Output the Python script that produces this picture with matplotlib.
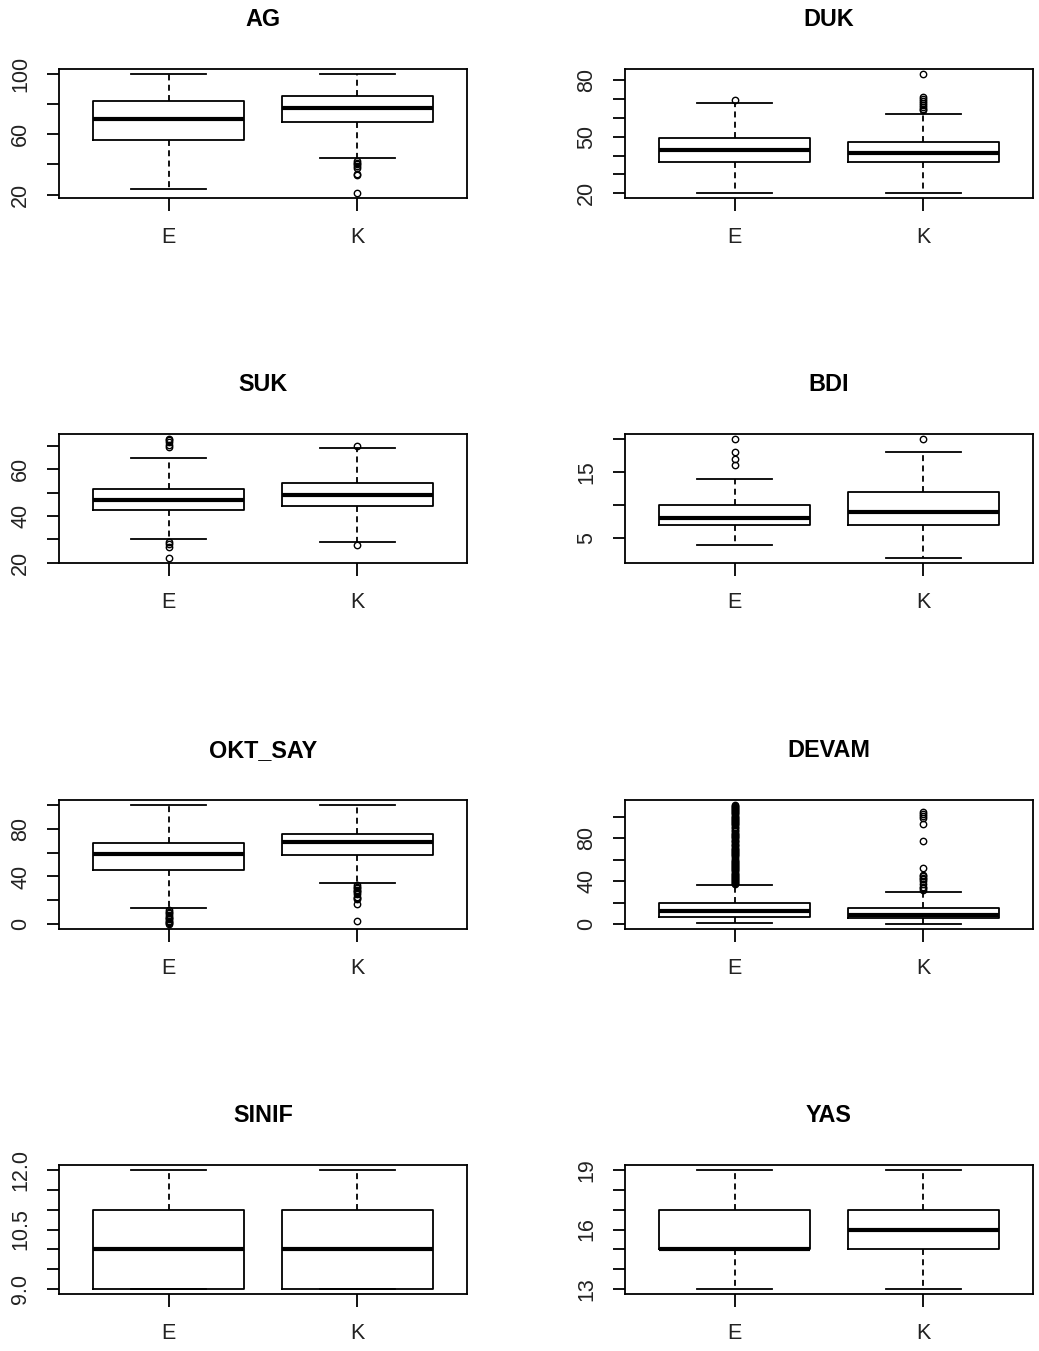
import matplotlib
matplotlib.use('Agg')
import matplotlib.pyplot as plt

plt.rcParams['font.family'] = ['Liberation Sans', 'DejaVu Sans']

groups = ['E', 'K']
titles = ['AG', 'DUK', 'SUK', 'BDI', 'OKT_SAY', 'DEVAM', 'SINIF', 'YAS']

# five-number summaries [whislo, q1, med, q3, whishi] for groups E and K
AG_E = [24, 56, 70, 82, 100]
AG_K = [44, 68, 77.6, 85, 100]
DUK_E = [20, 36.5, 42.8, 49.5, 68.2]
DUK_K = [20, 36.5, 41.6, 47, 62.3]
SUK_E = [30, 42.8, 47, 51.7, 65]
SUK_K = [29, 44.1, 49, 54, 69]
BDI_E = [4, 7, 8, 10, 14]
BDI_K = [2, 7, 9, 12, 18]
OKT_SAY_E = [13.3, 45.3, 58.6, 68.4, 100]
OKT_SAY_K = [34.4, 58.3, 69, 75.8, 100]
DEVAM_E = [1.5, 7.1, 12, 19.7, 36]
DEVAM_K = [0, 6, 8.3, 14.8, 30]
SINIF_E = [9, 9, 10, 11, 12]
SINIF_K = [9, 9, 10, 11, 12]
YAS_E = [13, 15, 15, 17, 19]
YAS_K = [13, 15, 16, 17, 19]

# outliers
AG_E_out = []
AG_K_out = [42, 41, 40, 39, 38, 34, 33, 21]
DUK_E_out = [69.5]
DUK_K_out = [83.5, 71, 70, 69, 68, 67, 66, 65, 64]
SUK_E_out = [73, 72.5, 71.5, 70.5, 69.5, 29, 28, 27, 22]
SUK_K_out = [70, 27.5]
BDI_E_out = [20, 18, 17, 16]
BDI_K_out = [20]
OKT_SAY_E_out = [12, 10, 9, 8, 6, 5, 4, 3, 2, 1, 0]
OKT_SAY_K_out = [33, 31, 30, 29, 28, 27, 25, 23, 22, 21, 16.8, 2.8]
DEVAM_E_out = [37, 38, 39, 40, 41, 42, 43, 44, 45, 46, 47, 48, 49, 50, 51, 52, 53,
               54, 55, 56, 57, 58, 59, 60, 62, 63, 64, 65, 66, 67, 68, 69, 70, 71,
               73, 74, 75, 76, 77, 78, 80, 81, 82, 83, 84, 85, 87, 88, 89, 90, 92,
               93, 94, 95, 96, 97, 98, 99, 100, 101, 102, 103, 104, 105, 106, 107,
               108, 109, 110, 111]
DEVAM_K_out = [32, 34, 35, 37, 40, 42, 43, 45, 46, 52, 77.5, 93, 98.5, 101, 102, 104]
SINIF_E_out = []
SINIF_K_out = []
YAS_E_out = []
YAS_K_out = []

# y ticks and tick labels
AG_ticks = [20, 40, 60, 80, 100]
AG_labels = ['20', '', '60', '', '100']
DUK_ticks = [20, 30, 40, 50, 60, 70, 80]
DUK_labels = ['20', '', '', '50', '', '', '80']
SUK_ticks = [20, 30, 40, 50, 60, 70]
SUK_labels = ['20', '', '40', '', '60', '']
BDI_ticks = [5, 10, 15, 20]
BDI_labels = ['5', '', '15', '']
OKT_SAY_ticks = [0, 20, 40, 60, 80, 100]
OKT_SAY_labels = ['0', '', '40', '', '80', '']
DEVAM_ticks = [0, 20, 40, 60, 80, 100]
DEVAM_labels = ['0', '', '40', '', '80', '']
SINIF_ticks = [9.0, 9.5, 10.0, 10.5, 11.0, 11.5, 12.0]
SINIF_labels = ['9.0', '', '', '10.5', '', '', '12.0']
YAS_ticks = [13, 14, 15, 16, 17, 18, 19]
YAS_labels = ['13', '', '', '16', '', '', '19']

panels = [
    (AG_E, AG_K, AG_E_out, AG_K_out, AG_ticks, AG_labels),
    (DUK_E, DUK_K, DUK_E_out, DUK_K_out, DUK_ticks, DUK_labels),
    (SUK_E, SUK_K, SUK_E_out, SUK_K_out, SUK_ticks, SUK_labels),
    (BDI_E, BDI_K, BDI_E_out, BDI_K_out, BDI_ticks, BDI_labels),
    (OKT_SAY_E, OKT_SAY_K, OKT_SAY_E_out, OKT_SAY_K_out, OKT_SAY_ticks, OKT_SAY_labels),
    (DEVAM_E, DEVAM_K, DEVAM_E_out, DEVAM_K_out, DEVAM_ticks, DEVAM_labels),
    (SINIF_E, SINIF_K, SINIF_E_out, SINIF_K_out, SINIF_ticks, SINIF_labels),
    (YAS_E, YAS_K, YAS_E_out, YAS_K_out, YAS_ticks, YAS_labels),
]

W, H = 1039, 1351
fig = plt.figure(figsize=(W / 100, H / 100), dpi=100)

col_left = [59, 625]
ax_w = 408
row_top = [69, 434, 800, 1165]
ax_h = 129

LW = 1.3
for i, (title, (se, sk, oe, ok, ticks, labels)) in enumerate(zip(titles, panels)):
    r, c = divmod(i, 2)
    ax = fig.add_axes([col_left[c] / W, 1 - (row_top[r] + ax_h) / H, ax_w / W, ax_h / H])
    stats = []
    for g, s, o in zip(groups, (se, sk), (oe, ok)):
        stats.append(dict(label=g, whislo=s[0], q1=s[1], med=s[2], q3=s[3], whishi=s[4], fliers=o))
    ax.bxp(stats, positions=[1, 2], widths=0.8, capwidths=0.4, showfliers=True,
           patch_artist=False,
           boxprops=dict(color='black', linewidth=LW),
           medianprops=dict(color='black', linewidth=3.0, solid_capstyle='butt'),
           whiskerprops=dict(color='black', linewidth=LW, linestyle=(0, (3.3, 2.4))),
           capprops=dict(color='black', linewidth=LW),
           flierprops=dict(marker='o', markersize=4.6, markerfacecolor='none',
                           markeredgecolor='black', markeredgewidth=1.0, linestyle='none'))
    allv = list(se) + list(sk) + list(oe) + list(ok)
    lo, hi = min(allv), max(allv)
    rng = hi - lo
    ax.set_ylim(lo - 0.04 * rng, hi + 0.04 * rng)
    ax.set_xlim(0.42, 2.58)
    ax.set_xticks([1, 2])
    ax.set_xticklabels(groups, fontsize=15.5)
    ax.set_yticks(ticks)
    ax.set_yticklabels(labels, rotation=90, va='center', fontsize=15.5)
    ax.tick_params(axis='both', length=9, width=LW, direction='out', color='black',
                   labelcolor='#222222')
    ax.tick_params(axis='x', pad=12)
    ax.tick_params(axis='y', pad=11)
    for sp in ax.spines.values():
        sp.set_linewidth(LW)
    ax.set_title(title, fontsize=16.8, fontweight='bold', pad=31)

fig.savefig('out.png', dpi=100)
